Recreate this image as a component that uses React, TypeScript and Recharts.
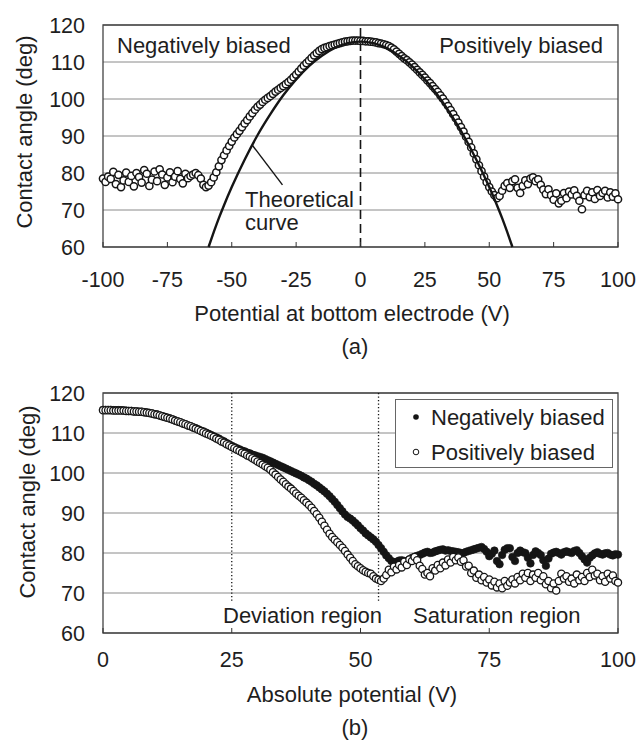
import React from 'react';
import {
  ScatterChart,
  Scatter,
  XAxis,
  YAxis,
  CartesianGrid,
  ReferenceLine,
  ReferenceArea,
  Legend,
} from 'recharts';

// ---------- data ----------
// Chart (a): contact angle vs potential, V = -100 .. -1 (1 V steps)
const anglesNegA = [
  78.5, 77.6, 79.0, 78.4, 80.3, 77.0, 79.5, 76.2, 78.0, 80.1,
  77.6, 79.2, 76.4, 80.0, 78.9, 77.4, 80.8, 79.8, 76.5, 78.2,
  80.4, 77.8, 81.0, 79.6, 76.8, 78.8, 80.2, 77.5, 79.0, 80.5,
  78.4, 77.2, 79.8, 78.6, 79.2, 79.6, 80.0, 79.4, 78.5, 76.8,
  76.2, 76.6, 77.5, 78.8, 80.2, 81.8, 83.5, 84.8, 86.1, 87.3,
  88.5, 89.6, 90.5, 91.4, 92.4, 93.4, 94.3, 95.3, 96.2, 97.1,
  97.9, 98.5, 99.2, 99.8, 100.3, 100.8, 101.4, 102.0, 102.5, 103.0,
  103.5, 104.0, 104.6, 105.2, 105.9, 106.6, 107.4, 108.2, 109.0, 109.7,
  110.4, 111.1, 111.8, 112.4, 113.0, 113.5, 113.8, 114.0, 114.3, 114.5,
  114.7, 114.9, 115.1, 115.3, 115.5, 115.6, 115.7, 115.8, 115.8, 115.8,
];
// V = 0 .. 100
const anglesPosA = [
  115.7, 115.7, 115.6, 115.6, 115.5, 115.4, 115.3, 115.1, 115.0, 114.8,
  114.6, 114.3, 113.9, 113.4, 112.8, 112.2, 111.6, 111.0, 110.5, 109.9,
  109.3, 108.6, 107.9, 107.2, 106.5, 105.8, 105.0, 104.3, 103.5, 102.7,
  101.9, 101.0, 100.1, 99.1, 98.1, 97.0, 95.9, 94.8, 93.6, 92.4,
  91.2, 89.8, 88.4, 86.9, 85.3, 83.7, 82.1, 80.5, 79.0, 77.5,
  76.2, 75.0, 74.0, 73.2, 73.8, 75.2, 76.5, 77.3, 76.0, 77.8,
  78.3, 76.0, 74.6, 76.5, 78.0, 77.0, 78.5, 78.8, 77.8, 78.3,
  76.8, 75.5, 74.3, 75.6, 74.0, 72.8, 74.5, 71.8, 72.5, 74.6,
  73.2, 75.0, 74.2, 75.3, 73.8, 72.5, 70.2, 74.0, 75.2, 73.5,
  74.8, 73.0, 75.4, 73.8, 74.6, 75.2, 73.4, 74.8, 73.6, 74.5,
  72.9,
];
// Theoretical curve
const theoryV = [-59, -57, -55, -53, -50, -45, -40, -35, -30, -25, -20, -15, -10, -5, 0,
  5, 10, 15, 20, 25, 30, 35, 40, 45, 50, 53, 55, 57, 59];
const theoryAngle = [60, 64, 67.8, 71.3, 76.2, 83.6, 90.2, 95.9, 101, 105.3, 108.9, 111.7, 113.8, 115.1, 115.5,
  115.1, 113.8, 111.7, 108.9, 105.3, 101, 95.9, 90.2, 83.6, 76.2, 71.3, 67.8, 64, 60];

// Chart (b): contact angle vs absolute potential, |V| = 0 .. 100 (0.5 V steps)
const anglesNegB = [
  115.8, 115.8, 115.8, 115.8, 115.7, 115.7, 115.7, 115.7, 115.6, 115.6,
  115.5, 115.5, 115.4, 115.4, 115.3, 115.3, 115.2, 115.1, 115.0, 114.9,
  114.7, 114.6, 114.4, 114.2, 114.0, 113.8, 113.6, 113.4, 113.1, 112.9,
  112.7, 112.4, 112.2, 111.9, 111.7, 111.4, 111.2, 110.9, 110.6, 110.4,
  110.1, 109.8, 109.5, 109.2, 108.9, 108.6, 108.2, 107.9, 107.5, 107.2,
  106.8, 106.5, 106.2, 105.9, 105.6, 105.4, 105.1, 104.9, 104.6, 104.4,
  104.2, 104.0, 103.8, 103.5, 103.2, 102.9, 102.6, 102.3, 102.0, 101.7,
  101.4, 101.1, 100.8, 100.5, 100.2, 99.9, 99.6, 99.3, 98.9, 98.6,
  98.2, 97.8, 97.3, 96.9, 96.4, 95.9, 95.4, 94.8, 94.2, 93.5,
  92.8, 92.0, 91.2, 90.4, 89.6, 89.0, 88.6, 88.1, 87.5, 86.9,
  86.2, 85.6, 84.9, 84.4, 83.9, 83.4, 82.8, 82.0, 81.2, 80.3,
  79.4, 78.7, 78.0, 77.7, 77.8, 78.1, 78.2, 78.0, 78.0, 78.4,
  78.8, 79.0, 79.3, 79.5, 79.8, 80.1, 80.3, 80.0, 80.1, 80.4,
  80.6, 80.8, 80.9, 80.6, 80.7, 80.5, 80.4, 80.3, 80.2, 80.0,
  80.0, 80.3, 80.5, 80.7, 80.9, 81.1, 81.3, 81.5, 81.0, 80.3,
  79.2, 79.8, 80.6, 78.0, 77.2, 79.5, 80.8, 81.2, 81.2, 79.0,
  78.0, 80.0, 80.6, 80.2, 80.0, 78.8, 77.4, 79.5, 80.4, 80.0,
  79.5, 78.2, 76.8, 78.6, 79.8, 80.1, 80.3, 80.0, 79.6, 80.2,
  80.4, 80.2, 80.0, 80.5, 80.7, 80.0, 79.2, 78.4, 77.6, 78.8,
  79.4, 79.9, 80.2, 79.8, 79.6, 79.9, 80.0, 79.6, 79.4, 79.7,
  79.6,
];
const anglesPosB = [
  115.7, 115.7, 115.7, 115.7, 115.6, 115.6, 115.6, 115.6, 115.6, 115.5,
  115.5, 115.5, 115.4, 115.4, 115.3, 115.3, 115.2, 115.1, 115.0, 114.9,
  114.7, 114.6, 114.4, 114.2, 114.0, 113.8, 113.6, 113.4, 113.1, 112.9,
  112.7, 112.4, 112.2, 111.9, 111.7, 111.4, 111.1, 110.8, 110.5, 110.2,
  109.9, 109.6, 109.3, 109.0, 108.6, 108.3, 107.9, 107.6, 107.2, 106.9,
  106.5, 106.2, 105.8, 105.5, 105.1, 104.8, 104.4, 104.1, 103.7, 103.3,
  102.9, 102.5, 102.1, 101.7, 101.3, 100.8, 100.2, 99.6, 99.0, 98.4,
  97.8, 97.2, 96.6, 96.1, 95.5, 94.9, 94.3, 93.8, 93.2, 92.6,
  92.0, 91.3, 90.5, 89.7, 88.8, 87.8, 86.8, 85.8, 84.8, 84.0,
  83.3, 82.7, 82.0, 81.3, 80.5, 79.6, 78.8, 78.0, 77.2, 76.7,
  76.2, 75.7, 75.3, 75.0, 74.8, 74.2, 73.6, 73.3, 73.0, 73.6,
  74.5, 75.8, 75.2, 76.6, 75.9, 77.0, 76.4, 77.8, 77.0, 78.4,
  78.0, 79.0, 78.2, 76.8, 76.0, 74.6, 75.0, 74.2, 76.2, 75.6,
  77.0, 76.2, 77.6, 76.9, 78.4, 77.6, 79.0, 78.2, 78.9, 77.8,
  78.2, 76.6, 76.8, 75.0, 75.6, 73.8, 74.6, 73.2, 74.0, 72.6,
  73.4, 71.9, 72.8, 71.4, 72.4, 71.2, 73.0, 71.8, 72.6, 73.4,
  72.4, 74.0, 73.2, 74.8, 73.8, 75.0, 73.0, 74.6, 73.8, 75.0,
  73.2, 74.2, 72.2, 73.0, 71.2, 72.4, 70.6, 73.0, 74.8, 73.6,
  74.2, 72.8, 73.6, 72.4, 74.6, 73.2, 74.0, 73.0, 75.0, 74.0,
  75.8, 74.4, 74.8, 73.2, 74.2, 72.8, 74.8, 73.6, 74.4, 73.0,
  72.6,
];

const ticksXA = [-100, -75, -50, -25, 0, 25, 50, 75, 100];
const ticksXB = [0, 25, 50, 75, 100];
const ticksY = [60, 70, 80, 90, 100, 110, 120];
const regionLinesB = [25, 53.5];

const seriesNames = ['Negatively biased', 'Positively biased'];

// ---------- build tables ----------
const dataA = [
  ...anglesNegA.map((a, i) => ({ x: -100 + i, y: a })),
  ...anglesPosA.map((a, i) => ({ x: i, y: a })),
];
const theoryA = theoryV.map((v, i) => ({ x: v, y: theoryAngle[i] }));
const negB = anglesNegB.map((a, i) => ({ x: i * 0.5, y: a }));
const posB = anglesPosB.map((a, i) => ({ x: i * 0.5, y: a }));

// ---------- styles ----------
const FONT = '"Liberation Sans", Arial, Helvetica, sans-serif';
const TXT = '#1e1e1e';
const tickStyle = { fontSize: 21.5, fill: TXT, fontFamily: FONT };

const OpenCircleA = (props: any) => (
  <circle cx={props.cx} cy={props.cy} r={3.6} fill="#ffffff" stroke="#151515" strokeWidth={1.5} />
);
const OpenCircleB = (props: any) => (
  <circle cx={props.cx} cy={props.cy} r={3.6} fill="#ffffff" stroke="#151515" strokeWidth={1.3} />
);
const FilledCircle = (props: any) => (
  <circle cx={props.cx} cy={props.cy} r={3.8} fill="#151515" stroke="#151515" strokeWidth={0.6} />
);
const NoShape = () => <g />;

const renderLegend = (props: any) => {
  const payload = props && props.payload ? props.payload : [];
  const n0 = payload[0] ? payload[0].value : seriesNames[0];
  const n1 = payload[1] ? payload[1].value : seriesNames[1];
  return (
    <svg width={218} height={69} style={{ display: 'block' }}>
      <rect x={0.5} y={0.5} width={217} height={68} fill="#ffffff" stroke="#666" strokeWidth={1} />
      <circle cx={21} cy={18} r={2.8} fill="#151515" />
      <text x={36} y={26} fontSize={22} fontFamily={FONT} fill={TXT}>{n0}</text>
      <circle cx={21} cy={53} r={2.8} fill="#fff" stroke="#151515" strokeWidth={1} />
      <text x={36} y={61} fontSize={22} fontFamily={FONT} fill={TXT}>{n1}</text>
    </svg>
  );
};

export default function App() {
  return (
    <div
      style={{
        position: 'absolute',
        left: 0,
        top: 0,
        width: 638,
        height: 754,
        background: '#ffffff',
        overflow: 'hidden',
        fontFamily: FONT,
      }}
    >
      {/* Chart (a) */}
      <div style={{ position: 'absolute', left: 0, top: 0 }}>
        <ScatterChart width={638} height={300} margin={{ top: 25, right: 20, bottom: 23, left: 0 }}>
          <CartesianGrid horizontal vertical={false} stroke="#8a8a8a" strokeWidth={1} />
          <XAxis
            type="number"
            dataKey="x"
            domain={[-100, 100]}
            ticks={ticksXA}
            height={30}
            axisLine={false}
            tickSize={-5}
            tickMargin={29.5}
            tickLine={{ stroke: '#333', strokeWidth: 1 }}
            tick={tickStyle}
            interval={0}
          />
          <YAxis
            type="number"
            dataKey="y"
            domain={[60, 120]}
            ticks={ticksY}
            width={103}
            axisLine={false}
            tickLine={false}
            tickSize={0}
            tickMargin={18}
            tick={tickStyle}
            interval={0}
          />
          <ReferenceArea x1={-100} x2={100} y1={60} y2={120} fill="none" stroke="#444" strokeWidth={1.3} />
          <ReferenceLine x={0} stroke="#151515" strokeWidth={1.6} strokeDasharray="9 5" />
          <Scatter data={dataA} shape={OpenCircleA} isAnimationActive={false} />
          <Scatter
            data={theoryA}
            shape={NoShape}
            line={{ stroke: '#151515', strokeWidth: 2.4 }}
            lineJointType="monotoneX"
            isAnimationActive={false}
          />
          <ReferenceLine
            segment={[{ x: -42, y: 87.5 }, { x: -30.3, y: 76.8 }]}
            stroke="#151515"
            strokeWidth={1.4}
          />
        </ScatterChart>
      </div>

      {/* Chart (b) */}
      <div style={{ position: 'absolute', left: 0, top: 368 }}>
        <ScatterChart width={638} height={330} margin={{ top: 25, right: 20, bottom: 35, left: 0 }}>
          <CartesianGrid horizontal vertical={false} stroke="#8a8a8a" strokeWidth={1} />
          <XAxis
            type="number"
            dataKey="x"
            domain={[0, 100]}
            ticks={ticksXB}
            height={30}
            axisLine={false}
            tickSize={-5}
            tickMargin={23.5}
            tickLine={{ stroke: '#333', strokeWidth: 1 }}
            tick={tickStyle}
            interval={0}
          />
          <YAxis
            type="number"
            dataKey="y"
            domain={[60, 120]}
            ticks={ticksY}
            width={103}
            axisLine={false}
            tickLine={false}
            tickSize={0}
            tickMargin={18}
            tick={tickStyle}
            interval={0}
          />
          <ReferenceArea x1={0} x2={100} y1={60} y2={120} fill="none" stroke="#444" strokeWidth={1.3} />
          {regionLinesB.map((v) => (
            <ReferenceLine
              key={v}
              segment={[{ x: v, y: 120 }, { x: v, y: 68 }]}
              stroke="#151515"
              strokeWidth={1.3}
              strokeDasharray="1.3 2.2"
            />
          ))}
          <Scatter name={seriesNames[0]} data={negB} shape={FilledCircle} isAnimationActive={false} />
          <Scatter name={seriesNames[1]} data={posB} shape={OpenCircleB} isAnimationActive={false} />
          <Legend
            content={renderLegend}
            layout="horizontal"
            verticalAlign="middle"
            align="center"
            wrapperStyle={{ left: 395, top: 31, width: 218, height: 69 }}
          />
        </ScatterChart>
      </div>

      {/* Text overlay */}
      <svg
        width={638}
        height={754}
        style={{ position: 'absolute', left: 0, top: 0, pointerEvents: 'none' }}
        fontFamily={FONT}
        fill={TXT}
      >
        {/* (a) */}
        <text x={117} y={53} fontSize={22}>Negatively biased</text>
        <text x={603} y={53} fontSize={22} textAnchor="end">Positively biased</text>
        <text x={245} y={207} fontSize={22}>Theoretical</text>
        <text x={245} y={230} fontSize={22}>curve</text>
        <text transform="translate(24,132) rotate(-90)" fontSize={22} textAnchor="middle" dominantBaseline="central">
          Contact angle (deg)
        </text>
        <text x={352} y={321} fontSize={22} textAnchor="middle">Potential at bottom electrode (V)</text>
        <text x={355} y={354} fontSize={22} textAnchor="middle">(a)</text>

        {/* (b) */}
        <text x={223} y={623} fontSize={22}>Deviation region</text>
        <text x={413} y={623} fontSize={22}>Saturation region</text>
        <text transform="translate(27,502) rotate(-90)" fontSize={22} textAnchor="middle" dominantBaseline="central">
          Contact angle (deg)
        </text>
        <text x={352} y={702} fontSize={22} textAnchor="middle">Absolute potential (V)</text>
        <text x={355} y={735} fontSize={22} textAnchor="middle">(b)</text>
      </svg>
    </div>
  );
}
